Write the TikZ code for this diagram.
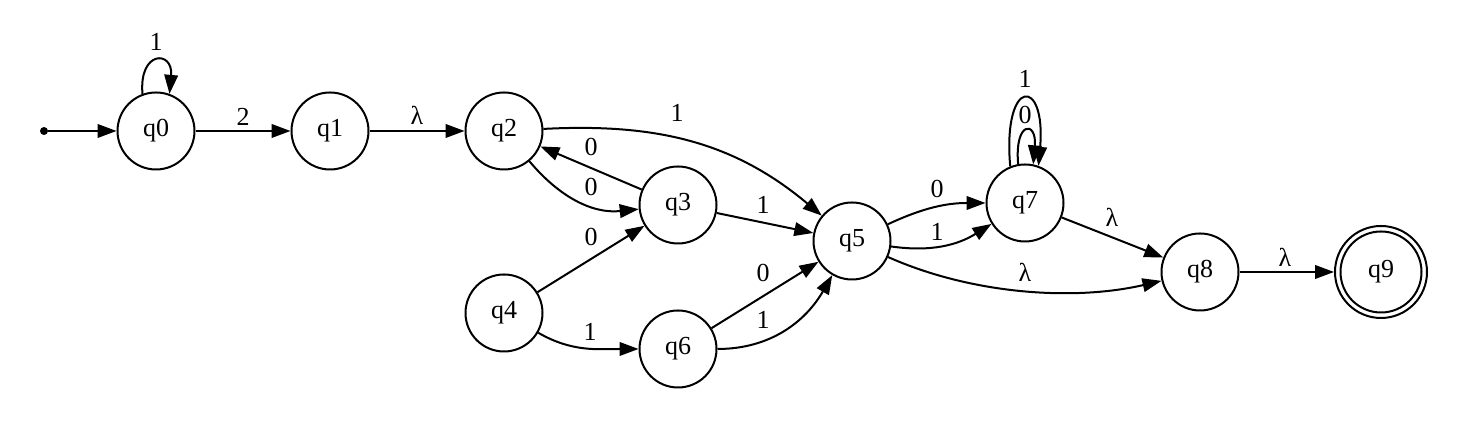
\documentclass[tikz,border=0pt]{standalone}
\usepackage{fontspec}
\setmainfont{Liberation Serif}
\usetikzlibrary{arrows.meta}
\begin{document}
\begin{tikzpicture}[x=0.5pt,y=0.5pt,
  every node/.style={font=\fontsize{13}{15}\selectfont},
  state/.style={circle,draw,line width=1pt,minimum size=38.5pt,inner sep=0pt},
  edge/.style={line width=1pt,-{Triangle[length=9.5pt,width=6.8pt]}},
  lab/.style={inner sep=0pt},
  startdot/.style={circle,fill,inner sep=0pt,minimum size=4pt}]
\useasboundingbox (0,0) rectangle (1474,431);
% states
\node[startdot] (s) at (44,300) {};
\node[state] (q0) at (156,300) {q0};
\node[state] (q1) at (330,300) {q1};
\node[state] (q2) at (504,300) {q2};
\node[state] (q3) at (678,226) {q3};
\node[state] (q4) at (504,118) {q4};
\node[state] (q5) at (852,190) {q5};
\node[state] (q6) at (678,82) {q6};
\node[state] (q7) at (1025,228) {q7};
\node[state] (q8) at (1200,159) {q8};
\node[state,minimum size=46pt] (q9) at (1381,159) {q9};
\draw[line width=1pt] (q9.center) circle[radius=20.25pt];
% edges
\draw[edge] (s) -- (q0);
\draw[edge] (q0.110) .. controls +(95:44) and +(85:44) .. (q0.70);
\draw[edge] (q0) -- (q1);
\draw[edge] (q1) -- (q2);
\draw[edge] (q2) to[out=3,in=140] (q5);
\draw[edge] (q3) -- (q2);
\draw[edge] (q2) to[out=-50,in=186] (q3);
\draw[edge] (q3) -- (q5);
\draw[edge] (q4) -- (q3);
\draw[edge] (q4) to[out=-30,in=180] (q6);
\draw[edge] (q6) -- (q5);
\draw[edge] (q6) to[out=0,in=240] (q5);
\draw[edge] (q5) to[out=25,in=180] (q7);
\draw[edge] (q5) to[out=-8,in=212] (q7);
\draw[edge] (q7.100) .. controls +(95:44) and +(85:44) .. (q7.78);
\draw[edge] (q7.112) .. controls +(95:90) and +(85:90) .. (q7.70);
\draw[edge] (q7) -- (q8);
\draw[edge] (q5) to[out=-24,in=193,looseness=0.85] (q8);
\draw[edge] (q8) -- (q9);
% labels
\node[lab] (l00) at (156,389) {1};
\node[lab] (l01) at (243,314) {2};
\node[lab] (l12) at (417,316) {λ};
\node[lab] (l25) at (677,318) {1};
\node[lab] (l32) at (591,284) {0};
\node[lab] (l23) at (591,244) {0};
\node[lab] (l35) at (763,226) {1};
\node[lab] (l43) at (591,194) {0};
\node[lab] (l46) at (590,99) {1};
\node[lab] (l65a) at (763,158) {0};
\node[lab] (l65b) at (763,111) {1};
\node[lab] (l57a) at (937,242) {0};
\node[lab] (l57b) at (937,199) {1};
\node[lab] (l77a) at (1025,316) {0};
\node[lab] (l77b) at (1025,352) {1};
\node[lab] (l78) at (1112,214) {λ};
\node[lab] (l58) at (1025,159) {λ};
\node[lab] (l89) at (1285,174) {λ};
\end{tikzpicture}
\end{document}
